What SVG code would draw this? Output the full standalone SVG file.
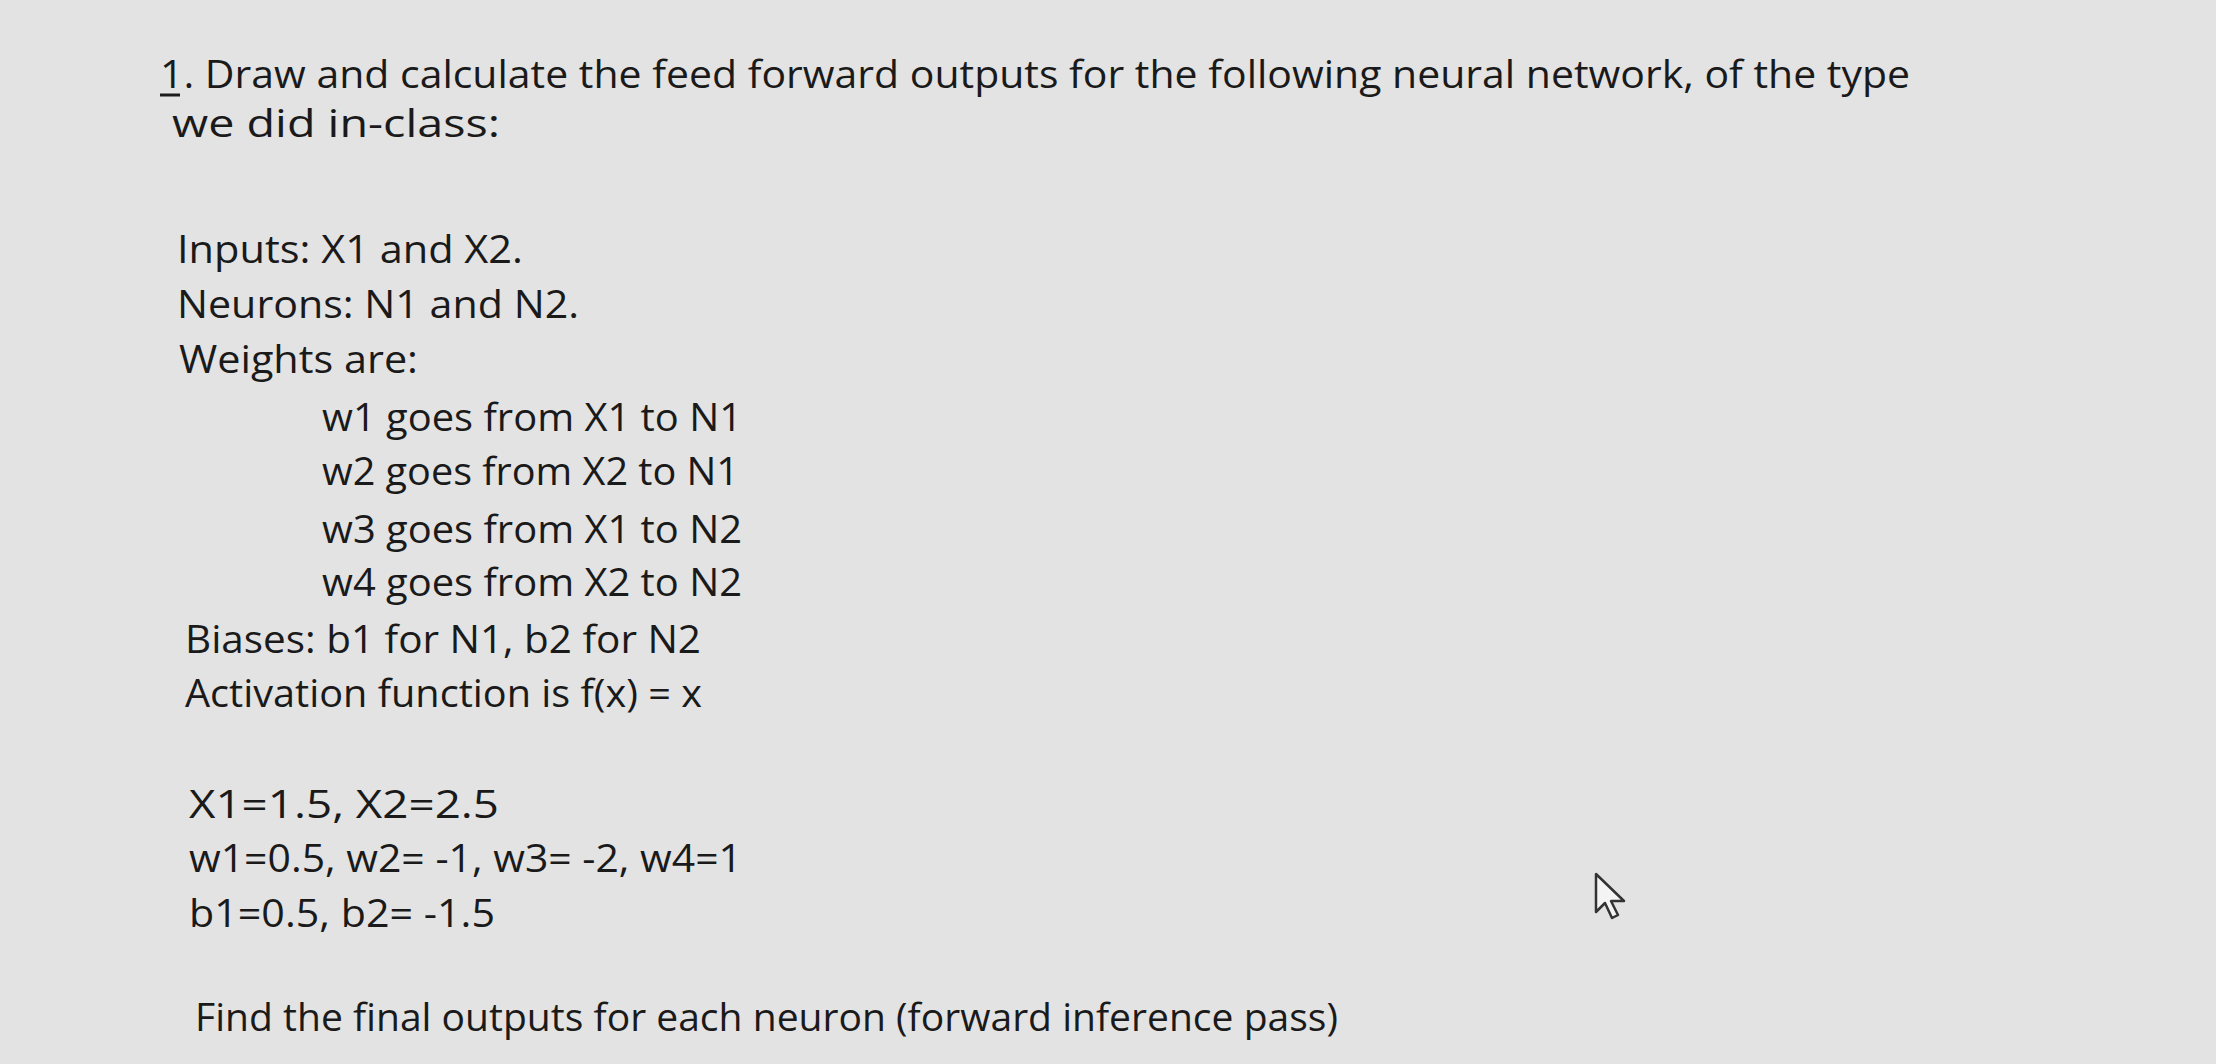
<svg xmlns="http://www.w3.org/2000/svg" width="2216" height="1064" viewBox="0 0 2216 1064">
<style>
text{font-family:"Open Sans","Liberation Sans",sans-serif;font-size:39px;fill:#1a1a1a}
</style>
<rect width="2216" height="1064" fill="#e3e3e3"/>
<g id="text">
<text x="160" y="88" textLength="1750" lengthAdjust="spacingAndGlyphs">1. Draw and calculate the feed forward outputs for the following neural network, of the type</text>
<line x1="160" y1="95" x2="180" y2="95" stroke="#1a1a1a" stroke-width="3"/>
<text x="172" y="137" textLength="328" lengthAdjust="spacingAndGlyphs">we did in-class:</text>
<text x="177" y="263" textLength="346" lengthAdjust="spacingAndGlyphs">Inputs:  X1 and X2.</text>
<text x="177" y="318" textLength="402" lengthAdjust="spacingAndGlyphs">Neurons:  N1 and N2.</text>
<text x="179" y="373" textLength="239" lengthAdjust="spacingAndGlyphs">Weights are:</text>
<text x="322" y="431" textLength="420" lengthAdjust="spacingAndGlyphs">w1 goes from X1 to N1</text>
<text x="322" y="485" textLength="417" lengthAdjust="spacingAndGlyphs">w2 goes from X2 to N1</text>
<text x="322" y="543" textLength="420" lengthAdjust="spacingAndGlyphs">w3 goes from X1 to N2</text>
<text x="322" y="596" textLength="420" lengthAdjust="spacingAndGlyphs">w4 goes from X2 to N2</text>
<text x="185" y="653" textLength="516" lengthAdjust="spacingAndGlyphs">Biases:  b1 for N1, b2 for N2</text>
<text x="185" y="707" textLength="517" lengthAdjust="spacingAndGlyphs">Activation function is f(x) = x</text>
<text x="189" y="818" textLength="310" lengthAdjust="spacingAndGlyphs">X1=1.5, X2=2.5</text>
<text x="189" y="872" textLength="553" lengthAdjust="spacingAndGlyphs">w1=0.5, w2= -1, w3= -2, w4=1</text>
<text x="189" y="927" textLength="306" lengthAdjust="spacingAndGlyphs">b1=0.5, b2= -1.5</text>
<text x="195" y="1031" textLength="1143" lengthAdjust="spacingAndGlyphs">Find the final outputs for each neuron (forward inference pass)</text>
</g>
<g id="cursor">
<path d="M1596,874 L1596,912 L1605,903 L1612,918 L1618,915 L1611,901 L1624,901 Z" fill="#f4f4f4" stroke="#333" stroke-width="2.5" stroke-linejoin="round"/>
</g>
</svg>
